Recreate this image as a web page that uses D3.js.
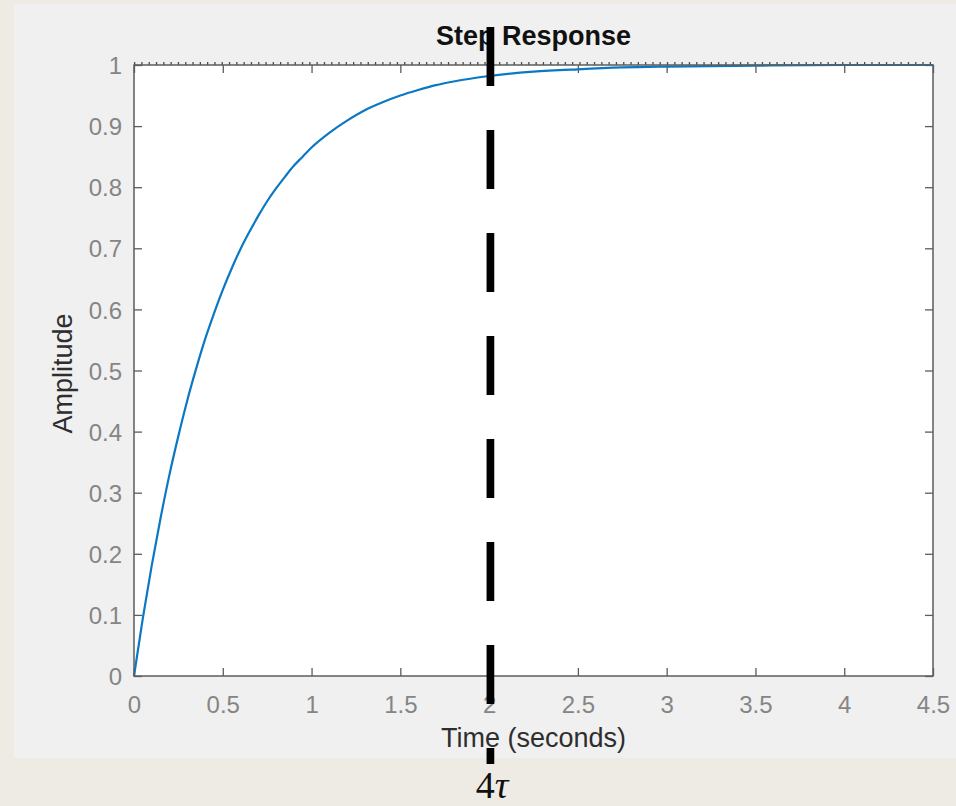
<!DOCTYPE html>
<html>
<head>
<meta charset="utf-8">
<script src="https://cdn.jsdelivr.net/npm/d3@7"></script>
<style>
  html, body { margin: 0; padding: 0; background: #eeebe5; }
  svg { display: block; }
</style>
</head>
<body>
<svg id="chart" width="956" height="806"></svg>
<script>
// Step response of a first-order system (time constant 0.5 s)
const timeValues = [0, 0.05, 0.1, 0.15, 0.2, 0.25, 0.3, 0.35, 0.4, 0.45, 0.5, 0.55, 0.6, 0.65, 0.7, 0.75,
                    0.8, 0.85, 0.9, 0.95, 1.0, 1.1, 1.2, 1.3, 1.4, 1.5, 1.6, 1.7, 1.8, 2.0, 2.25, 2.5,
                    2.75, 3.0, 3.5, 4.0, 4.5];
const amplitudeValues = [0, 0.095, 0.181, 0.259, 0.33, 0.393, 0.451, 0.503, 0.551, 0.593, 0.632, 0.667,
                         0.699, 0.727, 0.753, 0.777, 0.798, 0.817, 0.835, 0.85, 0.865, 0.889, 0.909,
                         0.926, 0.939, 0.95, 0.959, 0.967, 0.973, 0.982, 0.989, 0.993, 0.996, 0.9975,
                         0.999, 1.0, 1.0];
const xTicks = [0, 0.5, 1, 1.5, 2, 2.5, 3, 3.5, 4, 4.5];
const yTicks = [0, 0.1, 0.2, 0.3, 0.4, 0.5, 0.6, 0.7, 0.8, 0.9, 1];
const steadyState = 1;
const markerTime = 2;          // 4τ
const markerLabel = "4τ";
const titleText = "Step Response";
const xLabel = "Time (seconds)";
const yLabel = "Amplitude";

const svg = d3.select("#chart");
const W = 956, H = 806;

// figure panel
svg.append("rect").attr("x", 14).attr("y", 4).attr("width", W - 14).attr("height", 754).attr("fill", "#f0f0f0");

const plot = { left: 134, right: 933, top: 65, bottom: 676 };
const x = d3.scaleLinear().domain([0, 4.5]).range([plot.left, plot.right]);
const y = d3.scaleLinear().domain([0, 1]).range([plot.bottom, plot.top]);

// axes background
svg.append("rect").attr("x", plot.left).attr("y", plot.top)
  .attr("width", plot.right - plot.left).attr("height", plot.bottom - plot.top).attr("fill", "#ffffff");

const axisColor = "#5c5c5c";
const tickFont = "'Liberation Sans', Arial, Helvetica, sans-serif";

function styleAxis(g) {
  g.select(".domain").remove();
  g.selectAll(".tick line").attr("stroke", axisColor).attr("stroke-width", 1.3);
  g.selectAll(".tick text").attr("fill", "#858585").style("font-family", tickFont).style("font-size", "24px");
}

// bottom axis (ticks inward)
svg.append("g").attr("transform", `translate(0,${plot.bottom})`)
  .call(d3.axisBottom(x).tickValues(xTicks).tickSizeInner(-8).tickSizeOuter(0).tickPadding(0).tickFormat(d3.format("")))
  .call(styleAxis)
  .call(g => g.selectAll(".tick text").attr("y", 37).attr("dy", 0));

// top axis ticks
svg.append("g").attr("transform", `translate(0,${plot.top})`)
  .call(d3.axisTop(x).tickValues(xTicks).tickSizeInner(-8).tickSizeOuter(0).tickFormat(""))
  .call(styleAxis);

// left axis
svg.append("g").attr("transform", `translate(${plot.left},0)`)
  .call(d3.axisLeft(y).tickValues(yTicks).tickSizeInner(-8).tickSizeOuter(0).tickFormat(d3.format("")))
  .call(styleAxis)
  .call(g => g.selectAll(".tick text").attr("x", -12).attr("dy", "0.36em"));

// right axis ticks
svg.append("g").attr("transform", `translate(${plot.right},0)`)
  .call(d3.axisRight(y).tickValues(yTicks).tickSizeInner(-8).tickSizeOuter(0).tickFormat(""))
  .call(styleAxis);

// dotted steady-state line
svg.append("line")
  .attr("x1", x(0)).attr("x2", x(4.5))
  .attr("y1", y(steadyState) - 1.5).attr("y2", y(steadyState) - 1.5)
  .attr("stroke", "#4a4a4a").attr("stroke-width", 3).attr("stroke-dasharray", "1.3 6");

// response curve
const pts = timeValues.map((t, i) => [t, amplitudeValues[i]]);
svg.append("path").datum(pts)
  .attr("fill", "none").attr("stroke", "#0b78c4").attr("stroke-width", 2.2)
  .attr("d", d3.line().x(d => x(d[0])).y(d => y(d[1])).curve(d3.curveMonotoneX));

// box
svg.append("rect").attr("x", plot.left).attr("y", plot.top)
  .attr("width", plot.right - plot.left).attr("height", plot.bottom - plot.top)
  .attr("fill", "none").attr("stroke", axisColor).attr("stroke-width", 1.5);

// title and labels
svg.append("text").attr("x", (plot.left + plot.right) / 2).attr("y", 45)
  .attr("text-anchor", "middle").attr("fill", "#111")
  .style("font-family", tickFont).style("font-size", "27px").style("font-weight", "bold")
  .text(titleText);

svg.append("text").attr("x", (plot.left + plot.right) / 2).attr("y", 747)
  .attr("text-anchor", "middle").attr("fill", "#2e2e2e")
  .style("font-family", tickFont).style("font-size", "27px")
  .text(xLabel);

svg.append("text").attr("transform", `translate(72,${(plot.top + plot.bottom) / 2 + 3}) rotate(-90)`)
  .attr("text-anchor", "middle").attr("fill", "#2e2e2e")
  .style("font-family", tickFont).style("font-size", "27px")
  .text(yLabel);

// 4τ marker: thick dashed vertical line
svg.append("line")
  .attr("x1", x(markerTime) + 1.3).attr("x2", x(markerTime) + 1.3)
  .attr("y1", 27).attr("y2", 764)
  .attr("stroke", "#000").attr("stroke-width", 7.7).attr("stroke-dasharray", "59 44");

const lab = svg.append("text").attr("x", x(markerTime) + 3).attr("y", 798)
  .attr("text-anchor", "middle").attr("fill", "#111")
  .style("font-family", "'Liberation Serif', 'DejaVu Serif', serif").style("font-size", "38px");
lab.append("tspan").text(markerLabel.charAt(0));
lab.append("tspan").style("font-style", "italic").text(markerLabel.slice(1));
</script>
</body>
</html>
